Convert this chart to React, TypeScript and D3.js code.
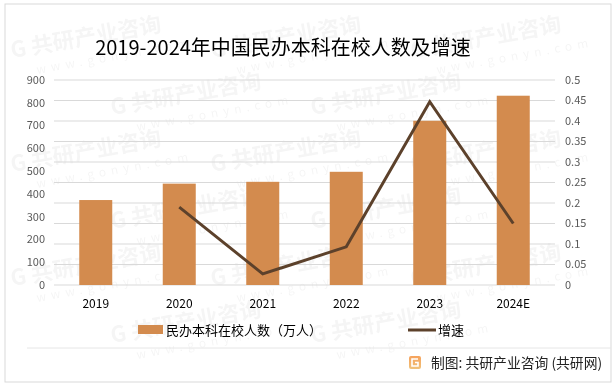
import React from "react";
import * as d3 from "d3";

const categories = ["2019", "2020", "2021", "2022", "2023", "2024E"];
const students = [373, 445, 453, 497, 721, 831];
const growth: (number | null)[] = [null, 0.19, 0.027, 0.093, 0.447, 0.15];
const leftTicks = [0, 100, 200, 300, 400, 500, 600, 700, 800, 900];
const rightTicks = [0, 0.05, 0.1, 0.15, 0.2, 0.25, 0.3, 0.35, 0.4, 0.45, 0.5];
const title = "2019-2024年中国民办本科在校人数及增速";
const barLegend = "民办本科在校人数（万人）";
const lineLegend = "增速";
const footer = "制图: 共研产业咨询 (共研网)";
const wmMain = "G 共研产业咨询";
const wmSub = "www.gonyn.com";

const W = 616, H = 388;
const plot = { left: 54, right: 555, top: 80, bottom: 285 };
const font = "'Noto Sans CJK SC', 'Noto Sans', sans-serif";

export default function App() {
  const yL = d3.scaleLinear().domain([0, 900]).range([plot.bottom, plot.top]);
  const yR = d3.scaleLinear().domain([0, 0.5]).range([plot.bottom, plot.top]);
  const band = d3.scaleBand<string>().domain(categories).range([plot.left, plot.right]);
  const cx = (c: string) => (band(c) as number) + band.bandwidth() / 2;
  const bw = 33;
  const lineGen = d3
    .line<[string, number | null]>()
    .defined((d) => d[1] !== null)
    .x((d) => cx(d[0]))
    .y((d) => yR(d[1] as number));
  const lineData: [string, number | null][] = categories.map((c, i) => [c, growth[i]]);

  const wmPositions: [number, number][] = [];
  const rowsY = [58, 115, 172, 229, 286, 343];
  rowsY.forEach((ry, r) => {
    const cols = r % 2 === 0 ? [12, 212, 412] : [112, 312];
    cols.forEach((cxp) => wmPositions.push([cxp, ry]));
  });

  return (
    <svg width={W} height={H} style={{ position: "absolute", left: 0, top: 0, background: "#fff" }} fontFamily={font}>
      <defs>
        <linearGradient id="logoGrad" x1="0" y1="0" x2="0" y2="1">
          <stop offset="0" stopColor="#f6a25c" />
          <stop offset="1" stopColor="#f0c27a" />
        </linearGradient>
      </defs>
      <rect x={0} y={0} width={W} height={H} fill="#fff" />
      <rect x={5} y={4} width={606} height={378} fill="none" stroke="#d9d9d9" strokeWidth={1} />

      {/* watermark */}
      <g fill="#000" opacity={0.04} fontWeight="bold">
        {wmPositions.map(([wx, wy], i) => (
          <g key={i} transform={`translate(${wx},${wy}) rotate(-10)`}>
            <text x={0} y={0} fontSize={22}>{wmMain}</text>
            <text x={22} y={20} fontSize={12} fontWeight="normal" letterSpacing={5}>{wmSub}</text>
          </g>
        ))}
      </g>

      <text x={283} y={55} textAnchor="middle" fontSize={20} fill="#000">{title}</text>

      {/* grid */}
      {rightTicks.map((t) => (
        <line key={t} x1={plot.left} x2={plot.right} y1={yR(t)} y2={yR(t)} stroke="#d9d9d9" strokeWidth={1} />
      ))}

      {/* left axis labels */}
      {leftTicks.map((t) => (
        <text key={t} x={45} y={yL(t)} dy="0.35em" textAnchor="end" fontSize={11} fill="#595959">{t}</text>
      ))}
      {/* right axis labels */}
      {rightTicks.map((t) => (
        <text key={t} x={565} y={yR(t)} dy="0.35em" textAnchor="start" fontSize={11} fill="#595959">{String(+t.toFixed(2))}</text>
      ))}

      {/* bars */}
      {categories.map((c, i) => (
        <rect key={c} x={cx(c) - bw / 2} y={yL(students[i])} width={bw} height={yL(0) - yL(students[i])} fill="#d38b4e" />
      ))}

      {/* line */}
      <path d={lineGen(lineData) || ""} fill="none" stroke="#5c412b" strokeWidth={3} strokeLinejoin="miter" />

      {/* x labels */}
      {categories.map((c) => (
        <text key={c} x={cx(c)} y={304} dy="0.35em" textAnchor="middle" fontSize={12} fill="#000">{c}</text>
      ))}

      {/* legend */}
      <rect x={138} y={325} width={25} height={9} fill="#d38b4e" />
      <text x={166} y={330} dy="0.35em" fontSize={13} fill="#000">{barLegend}</text>
      <line x1={408} x2={436} y1={330} y2={330} stroke="#5c412b" strokeWidth={3} />
      <text x={438} y={330} dy="0.35em" fontSize={13} fill="#000">{lineLegend}</text>

      {/* separator */}
      <line x1={27} x2={611} y1={348} y2={348} stroke="#e6e6e6" strokeWidth={1} />

      {/* footer */}
      <rect x={409} y={356} width={12} height={13} rx={2} fill="url(#logoGrad)" />
      <path d="M418 359 H412 V366 H418 V362.5 H415" fill="none" stroke="#fff" strokeWidth={1.6} />
      <text x={431} y={363} dy="0.35em" fontSize={13.8} fill="#222">{footer}</text>
    </svg>
  );
}
